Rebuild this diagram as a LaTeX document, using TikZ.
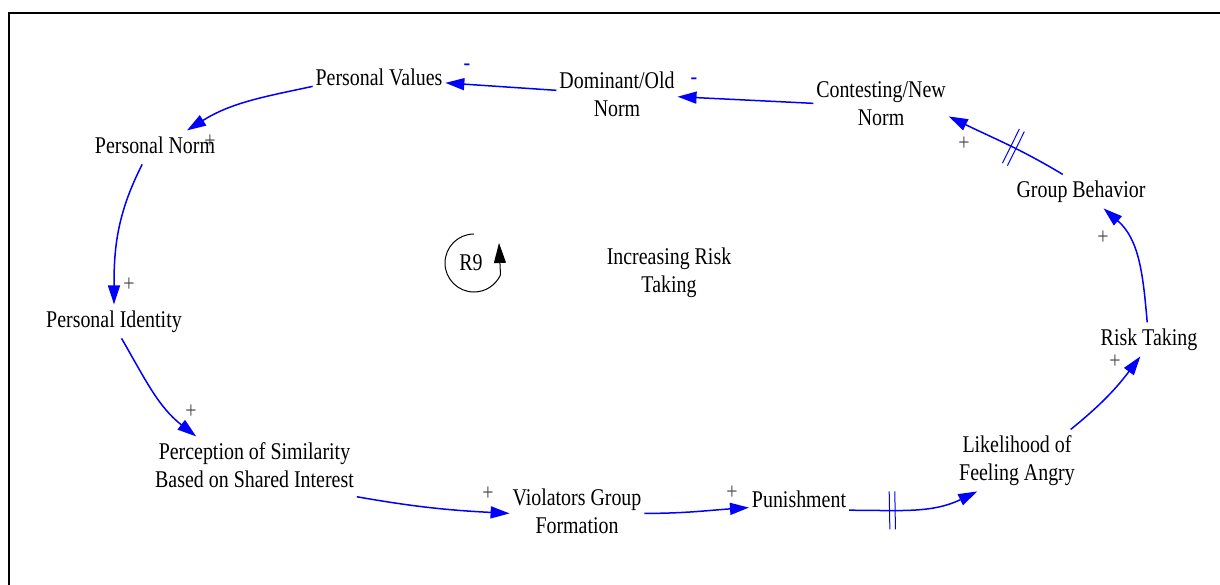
\documentclass[tikz,border=0pt]{standalone}
\usepackage{fontspec}
\setmainfont{Liberation Serif}[FakeStretch=0.83]
\usetikzlibrary{arrows.meta,decorations.markings}

\tikzset{
  var/.style={inner sep=0pt, outer sep=1.5pt, align=center,
    font=\fontsize{12}{14}\selectfont},
  link/.style={draw=blue, line width=0.75pt,
    -{Triangle[length=9.5pt,width=6pt]}},
  pos sign/.style={inner sep=0pt, text=black!72,
    font=\fontsize{12}{14}\selectfont},
  neg sign/.style={inner sep=0pt, text=blue,
    font=\fontsize{12}{14}\selectfont},
  delaymark/.style={postaction={decorate},
    decoration={markings, mark=at position #1 with {
      \draw[blue, line width=0.5pt, -] (-1.4pt,-9.5pt) -- (-1.4pt,9.5pt)
                                       (1.4pt,-9.5pt) -- (1.4pt,9.5pt);}}},
  loopline/.style={draw=black, line width=0.5pt,
    -{Triangle[length=10pt,width=6pt]}},
  frame/.style={draw=black, line width=1pt},
}

\begin{document}
\begin{tikzpicture}[x=0.5pt, y=0.5pt]
  \useasboundingbox (0,0) rectangle (1220,-584);
  \fill[white] (0,0) rectangle (1220,-584);

  % outer frame (left and top edges)
  \draw[frame] (9,-590) -- (9,-12.5) -- (1230,-12.5);

  % variables
  \node[var] (pv)    at (379,-79.4)    {\strut Personal Values};
  \node[var] (dom)   at (617,-96.7)    {\strut Dominant/Old\\\strut Norm};
  \node[var] (con)   at (881,-105.7)   {\strut Contesting/New\\\strut Norm};
  \node[var] (pn)    at (155,-147.4)   {\strut Personal Norm};
  \node[var] (pid)   at (114,-321.4)   {\strut Personal Identity};
  \node[var] (perc)  at (254.5,-467.4) {\strut Perception of Similarity\\\strut Based on Shared Interest};
  \node[var] (vio)   at (577,-513.4)   {\strut Violators Group\\\strut Formation};
  \node[var] (pun)   at (799,-501.4)   {\strut Punishment};
  \node[var] (lik)   at (1017,-460.4)  {\strut Likelihood of\\\strut Feeling Angry};
  \node[var] (risk)  at (1149,-339.4)  {\strut Risk Taking};
  \node[var] (gb)    at (1081,-191.4)  {\strut Group Behavior};
  \node[var] (title) at (669,-272.4)   {\strut Increasing Risk\\\strut Taking};

  % causal links
  \draw[link] (con.178) -- (dom.east);
  \draw[link] (dom.174) -- (pv.-3);
  \draw[link] (pv.186) to[out=192,in=32] (pn.28);
  \draw[link] (pn.233) to[out=243,in=90] (pid.north);
  \draw[link] (pid.-66) to[out=-60,in=142] (perc.152);
  \draw[link] (perc.-16) to[out=-10,in=177] (vio.west);
  \draw[link] (vio.east) to[out=0,in=184] (pun.187);
  \draw[link, delaymark=0.33] (pun.-10) to[out=0,in=206] (lik.218);
  \draw[link] (lik.30) to[out=39,in=233] (risk.243);
  \draw[link] (risk.96) to[out=95,in=319] (gb.-37);
  \draw[link, delaymark=0.44] (gb.137) to[out=149,in=334] (con.-9);

  % link polarities
  \node[neg sign] (m1) at (467,-67)  {-};
  \node[neg sign] (m2) at (694,-81)  {-};
  \node[pos sign] (p1) at (210,-142) {+};
  \node[pos sign] (p2) at (129,-285) {+};
  \node[pos sign] (p3) at (191,-412) {+};
  \node[pos sign] (p4) at (488,-494) {+};
  \node[pos sign] (p5) at (732,-493) {+};
  \node[pos sign] (p6) at (1115,-362) {+};
  \node[pos sign] (p7) at (1103,-238) {+};
  \node[pos sign] (p8) at (964,-144) {+};

  % reinforcing loop marker
  \node[var] (r9) at (471,-264.4) {\strut R9};
  \coordinate (r9c) at (474,-263);
  \draw[loopline] (r9c) ++(90:29) arc[start angle=90, end angle=336, radius=29]
    -- ++(-1.5,31.8);
\end{tikzpicture}
\end{document}
